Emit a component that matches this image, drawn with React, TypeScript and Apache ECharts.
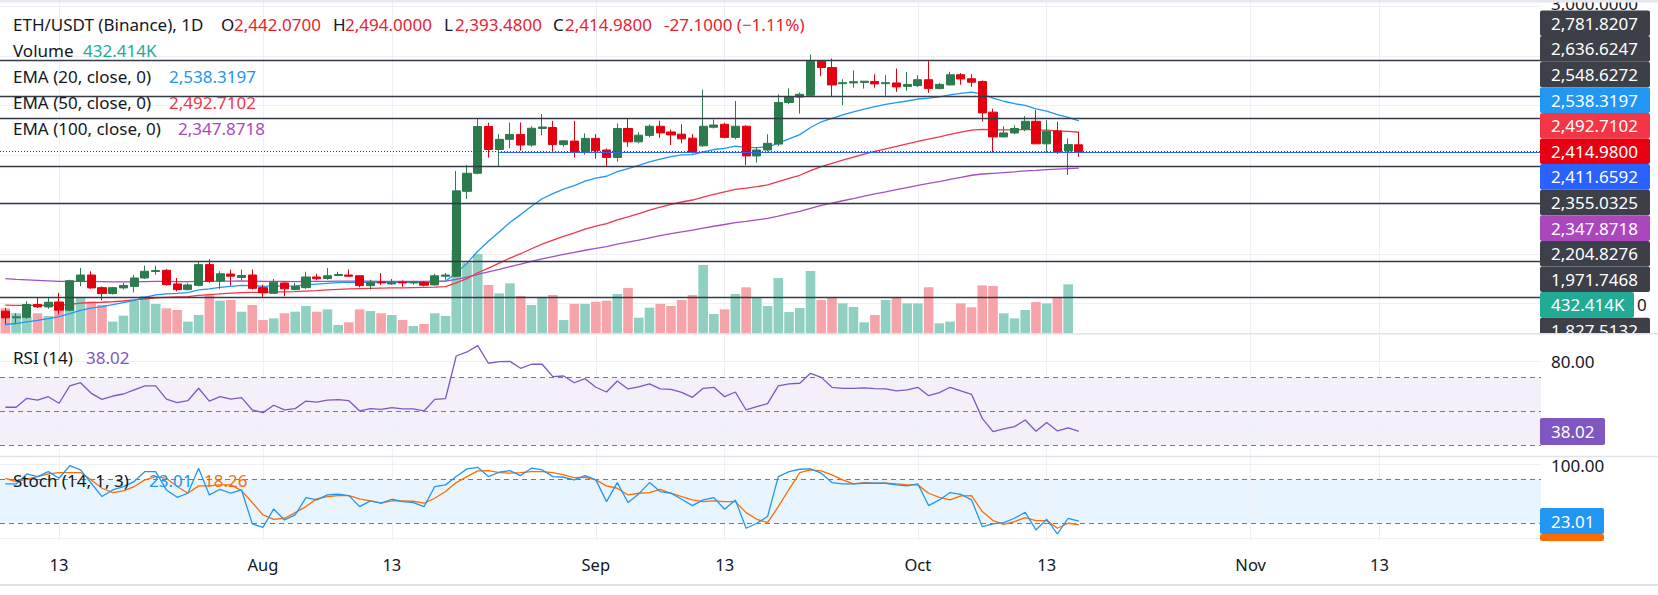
import React, { useEffect, useRef } from "react";
import * as echarts from "echarts";

const FONT = "'Noto Sans', 'DejaVu Sans', sans-serif";
const TEXT = "#131722";
const UP = "#2b7b4f";
const DOWN = "#e4000f";
const VOL_UP = "#8fd0c3";
const VOL_DOWN = "#f6a3a9";
const DARK_TAG = "#3d4049";

const MONTHS = ["Jan", "Feb", "Mar", "Apr", "May", "Jun", "Jul", "Aug", "Sep", "Oct", "Nov", "Dec"];
const START_YEAR = 2024;
const START_MONTH = 6; // July (0-based)
const START_DAY = 8;
const CATEGORY_COUNT = 144;

const TICK_DATES = ["Jul 13", "Aug 1", "Aug 13", "Sep 1", "Sep 13", "Oct 1", "Oct 13", "Nov 1", "Nov 13"];
const TICK_LABELS = ["13", "Aug", "13", "Sep", "13", "Oct", "13", "Nov", "13"];

const OPEN = [
  1770, 1743, 1745, 1797, 1787, 1807, 1774, 1891, 1916, 1865,
  1841, 1864, 1870, 1904, 1930, 1935, 1880, 1857, 1874, 1958,
  1891, 1920, 1906, 1916, 1865, 1842, 1884, 1857, 1865, 1908,
  1902, 1914, 1916, 1913, 1873, 1888, 1880, 1888, 1884, 1886,
  1876, 1911, 1911, 2254, 2327, 2516, 2423, 2464, 2484, 2441,
  2508, 2512, 2443, 2457, 2414, 2468, 2421, 2391, 2508, 2454,
  2480, 2517, 2494, 2485, 2469, 2438, 2513, 2525, 2472, 2517,
  2397, 2421, 2445, 2613, 2635, 2642, 2780, 2754, 2689, 2692,
  2694, 2698, 2689, 2692, 2678, 2681, 2705, 2669, 2684, 2725,
  2709, 2698, 2574, 2474, 2490, 2506, 2537, 2446, 2498, 2417,
  2442.07,
];
const HIGH = [
  1783, 1762, 1810, 1827, 1823, 1844, 1897, 1944, 1931, 1870,
  1868, 1884, 1917, 1954, 1954, 1940, 1904, 1884, 1971, 1980,
  1931, 1938, 1938, 1938, 1877, 1900, 1887, 1884, 1929, 1921,
  1944, 1929, 1938, 1915, 1897, 1924, 1900, 1894, 1892, 1892,
  1921, 1924, 2336, 2360, 2547, 2531, 2485, 2532, 2532, 2517,
  2566, 2539, 2461, 2539, 2488, 2485, 2427, 2528, 2548, 2493,
  2525, 2539, 2504, 2525, 2485, 2665, 2544, 2531, 2619, 2521,
  2432, 2485, 2646, 2670, 2653, 2807, 2782, 2790, 2707, 2743,
  2699, 2727, 2723, 2750, 2736, 2723, 2780, 2692, 2737, 2732,
  2727, 2702, 2588, 2517, 2521, 2558, 2582, 2542, 2535, 2468,
  2494.0,
];
const LOW = [
  1716, 1722, 1739, 1783, 1779, 1756, 1770, 1871, 1860, 1814,
  1837, 1857, 1846, 1900, 1917, 1873, 1850, 1854, 1870, 1884,
  1860, 1873, 1895, 1857, 1827, 1841, 1830, 1854, 1860, 1895,
  1897, 1911, 1908, 1866, 1857, 1876, 1876, 1868, 1877, 1870,
  1873, 1897, 1907, 2223, 2323, 2390, 2356, 2428, 2418, 2434,
  2480, 2414, 2434, 2391, 2402, 2386, 2356, 2374, 2434, 2448,
  2472, 2470, 2441, 2448, 2407, 2434, 2508, 2468, 2464, 2360,
  2370, 2415, 2437, 2606, 2568, 2642, 2719, 2638, 2602, 2673,
  2669, 2673, 2640, 2656, 2660, 2676, 2652, 2666, 2683, 2685,
  2676, 2537, 2410, 2472, 2485, 2497, 2446, 2413, 2405, 2320,
  2393.48,
];
const CLOSE = [
  1743, 1747, 1797, 1787, 1806, 1774, 1893, 1916, 1864, 1841,
  1865, 1874, 1904, 1931, 1934, 1877, 1857, 1876, 1958, 1891,
  1921, 1911, 1914, 1862, 1844, 1887, 1860, 1870, 1908, 1901,
  1913, 1918, 1911, 1873, 1887, 1884, 1887, 1884, 1888, 1875,
  1913, 1916, 2256, 2327, 2516, 2423, 2464, 2484, 2441, 2509,
  2514, 2443, 2458, 2414, 2468, 2418, 2391, 2508, 2454, 2481,
  2517, 2490, 2482, 2466, 2413, 2517, 2522, 2472, 2517, 2397,
  2421, 2448, 2613, 2636, 2646, 2780, 2754, 2684, 2693, 2697,
  2699, 2688, 2693, 2676, 2686, 2705, 2669, 2686, 2725, 2708,
  2695, 2571, 2474, 2490, 2508, 2537, 2446, 2497, 2415, 2443,
  2414.98,
];
const VOLUME_K = [
  219, 175, 145, 175, 151, 204, 278, 317, 278, 249,
  101, 154, 287, 329, 258, 219, 204, 101, 160, 337,
  287, 293, 189, 249, 115, 130, 175, 189, 240, 189,
  210, 71, 95, 210, 195, 175, 160, 115, 62, 80,
  175, 151, 737, 625, 702, 426, 352, 441, 329, 249,
  317, 337, 115, 258, 258, 278, 287, 346, 400, 136,
  225, 258, 240, 293, 337, 604, 169, 210, 346, 406,
  314, 240, 488, 186, 222, 551, 293, 314, 263, 231,
  95, 160, 293, 314, 263, 263, 406, 86, 101, 263,
  228, 423, 417, 175, 130, 204, 275, 263, 317, 432.414,
  null,
];
const EMA20 = [
  1716, 1720, 1727, 1733, 1740, 1748, 1760, 1773, 1782, 1788,
  1796, 1804, 1814, 1826, 1836, 1840, 1842, 1845, 1856, 1860,
  1866, 1870, 1874, 1873, 1870, 1872, 1871, 1872, 1876, 1879,
  1882, 1885, 1887, 1886, 1886, 1886, 1886, 1886, 1886, 1885,
  1888, 1891, 1925, 1963, 2012, 2052, 2090, 2128, 2160, 2194,
  2224, 2245, 2263, 2277, 2295, 2307, 2315, 2334, 2346, 2359,
  2373, 2384, 2394, 2401, 2402, 2413, 2423, 2428, 2437, 2432,
  2431, 2433, 2449, 2466, 2483, 2512, 2535, 2549, 2563, 2575,
  2586, 2596, 2605, 2612, 2619, 2627, 2631, 2636, 2644, 2650,
  2655, 2647, 2631, 2618, 2608, 2601, 2587, 2578, 2564, 2553,
  2538.3197,
];
const EMA50 = [
  1794, 1793, 1793, 1793, 1794, 1793, 1797, 1802, 1805, 1806,
  1808, 1811, 1815, 1820, 1824, 1826, 1828, 1829, 1834, 1837,
  1840, 1843, 1845, 1846, 1846, 1848, 1848, 1849, 1851, 1853,
  1856, 1858, 1860, 1861, 1862, 1863, 1864, 1864, 1865, 1866,
  1867, 1869, 1884, 1901, 1925, 1944, 1964, 1984, 2002, 2022,
  2041, 2057, 2072, 2086, 2101, 2113, 2124, 2139, 2151, 2164,
  2178, 2190, 2201, 2211, 2219, 2231, 2242, 2252, 2262, 2267,
  2273, 2280, 2293, 2306, 2319, 2338, 2354, 2367, 2380, 2392,
  2404, 2415, 2426, 2436, 2446, 2456, 2465, 2474, 2484, 2493,
  2501, 2504, 2503, 2502, 2502, 2504, 2502, 2501, 2498, 2496,
  2492.7102,
];
const EMA100 = [
  1901, 1898, 1896, 1894, 1892, 1890, 1890, 1890, 1890, 1889,
  1888, 1888, 1888, 1889, 1890, 1890, 1889, 1889, 1890, 1890,
  1891, 1891, 1892, 1891, 1890, 1890, 1890, 1889, 1890, 1890,
  1890, 1891, 1891, 1891, 1891, 1890, 1890, 1890, 1890, 1890,
  1891, 1891, 1898, 1907, 1919, 1929, 1939, 1950, 1960, 1971,
  1981, 1990, 1999, 2007, 2016, 2024, 2031, 2041, 2049, 2057,
  2066, 2075, 2083, 2090, 2097, 2105, 2113, 2120, 2128, 2133,
  2139, 2145, 2154, 2164, 2173, 2185, 2197, 2206, 2216, 2225,
  2235, 2244, 2252, 2261, 2269, 2278, 2286, 2293, 2302, 2310,
  2319, 2324, 2327, 2330, 2333, 2337, 2339, 2342, 2344, 2346,
  2347.8718,
];
const RSI14 = [
  52.4, 52.4, 57.7, 56.7, 58.7, 54.8, 65.1, 67.0, 60.7, 57.1,
  59.1, 60.3, 62.7, 65.1, 65.1, 57.3, 55.1, 56.3, 63.7, 56.1,
  58.7, 57.3, 58.1, 50.8, 49.2, 53.6, 50.8, 51.6, 56.1, 55.5,
  56.7, 56.9, 56.3, 50.2, 51.6, 51.2, 52.2, 51.4, 51.4, 50.2,
  57.1, 57.5, 82.9, 85.3, 89.1, 78.6, 79.6, 79.7, 75.6, 78.0,
  78.0, 70.6, 71.0, 67.0, 69.4, 64.3, 61.5, 68.0, 63.3, 64.5,
  66.3, 63.3, 63.1, 61.3, 58.3, 63.7, 64.3, 58.7, 61.5, 50.8,
  52.8, 54.6, 65.1, 66.3, 66.7, 72.6, 70.2, 64.3, 63.7, 63.7,
  63.9, 63.5, 63.3, 62.1, 62.7, 64.3, 59.3, 61.1, 64.3, 62.1,
  60.1, 45.8, 37.9, 39.5, 40.9, 44.8, 38.1, 43.4, 38.3, 40.1,
  38.02,
];
const STOCH_K = [
  73.7, 73.7, 87.3, 83.7, 90.5, 81.4, 98.7, 92.8, 74.6, 56.5,
  65.5, 70.1, 76.9, 90.5, 90.5, 65.5, 55.5, 61.0, 95.1, 58.7,
  66.4, 61.0, 65.5, 19.2, 14.6, 39.6, 24.6, 31.4, 55.1, 51.9,
  58.7, 59.6, 57.8, 42.8, 50.5, 47.4, 52.8, 49.6, 48.3, 42.8,
  70.1, 72.4, 83.7, 94.2, 96.4, 83.7, 89.6, 91.9, 85.1, 95.1,
  92.8, 83.7, 82.8, 79.2, 85.1, 79.2, 49.6, 75.5, 48.3, 60.1,
  75.5, 63.3, 61.0, 52.8, 44.2, 51.9, 55.1, 39.2, 51.9, 13.3,
  20.1, 29.2, 83.7, 90.5, 93.7, 94.2, 88.3, 75.5, 73.7, 73.7,
  74.6, 74.6, 74.6, 72.4, 71.0, 73.7, 44.2, 51.9, 61.9, 59.6,
  51.9, 15.5, 19.2, 21.0, 26.9, 35.1, 11.0, 25.5, 5.5, 26.9,
  23.01,
];
const STOCH_D = [
  81.4, 76.9, 80.1, 83.7, 87.3, 89.2, 89.2, 89.2, 79.2, 67.8,
  61.9, 64.2, 70.1, 79.2, 83.7, 81.4, 70.1, 61.0, 71.0, 71.0,
  72.4, 72.4, 64.6, 48.3, 31.4, 25.5, 26.9, 34.6, 42.8, 53.3,
  56.4, 57.8, 57.8, 53.3, 50.5, 47.4, 50.5, 50.5, 50.1, 47.4,
  54.2, 63.3, 75.5, 83.7, 91.4, 91.9, 89.2, 88.3, 89.2, 90.5,
  90.5, 89.2, 86.0, 82.4, 82.8, 79.2, 71.0, 67.8, 58.7, 61.0,
  61.9, 66.4, 61.0, 56.4, 51.9, 49.6, 50.5, 49.6, 49.6, 34.6,
  25.5, 21.0, 42.8, 66.4, 89.2, 92.8, 91.4, 86.0, 79.2, 73.7,
  75.5, 74.6, 74.6, 73.7, 72.4, 72.4, 61.0, 55.5, 51.9, 57.4,
  57.8, 36.0, 23.7, 18.7, 22.4, 27.8, 23.7, 23.7, 13.3, 20.1,
  18.26,
];

const LEVELS = [2781.8207, 2636.6247, 2548.6272, 2355.0325, 2204.8276, 1971.7468, 1827.5132];
const RAY_LEVEL = 2411.6592;
const RAY_START = 46;
const PRICE_GRID = [1800, 2000, 2200, 2400, 2600, 2800, 3000];
const CHANGE_TEXT = "-27.1000 (\u22121.11%)";

const fmt4 = (v: number) => v.toLocaleString("en-US", { minimumFractionDigits: 4, maximumFractionDigits: 4 });
const fmt2 = (v: number) => v.toFixed(2);

function buildDates(): string[] {
  const out: string[] = [];
  const d = new Date(Date.UTC(START_YEAR, START_MONTH, START_DAY));
  for (let i = 0; i < CATEGORY_COUNT; i++) {
    out.push(`${MONTHS[d.getUTCMonth()]} ${d.getUTCDate()}`);
    d.setUTCDate(d.getUTCDate() + 1);
  }
  return out;
}

function txt(text: string, x: number, y: number, fill: string, size = 17, align = "left", z = 60) {
  return {
    type: "text",
    x,
    y,
    z,
    silent: true,
    style: {
      text,
      fill,
      font: `${size}px ${FONT}`,
      align,
      verticalAlign: "middle",
      textAlign: align,
      textVerticalAlign: "middle",
    },
  };
}
function rect(x: number, y: number, w: number, h: number, fill: string, z = 55, r = 0) {
  return { type: "rect", z, silent: true, shape: { x, y, width: w, height: h, r }, style: { fill } };
}

export default function App() {
  const ref = useRef<HTMLDivElement>(null);

  useEffect(() => {
    if (!ref.current) return;
    const chart = echarts.init(ref.current, undefined, { renderer: "svg" });
    const dates = buildDates();
    const n = dates.length;
    const GL = -2.125;
    const GW = 1548;
    const last = CLOSE.length - 1;

    const grids = [
      { left: GL, width: GW, top: 0, height: 333 },
      { left: GL, width: GW, top: 233, height: 100 },
      { left: GL, width: GW, top: 334, height: 121 },
      { left: GL, width: GW, top: 457, height: 84 },
    ];
    const xAxes = grids.map((_, gi) => ({
      type: "category",
      gridIndex: gi,
      data: dates,
      boundaryGap: true,
      axisLine: { show: false },
      axisTick: { show: false },
      splitLine: { show: false },
      axisLabel:
        gi === 3
          ? {
              show: true,
              interval: (_idx: number, val: string) => TICK_DATES.includes(val),
              formatter: (val: string) => {
                const k = TICK_DATES.indexOf(val);
                return k >= 0 ? TICK_LABELS[k] : "";
              },
              color: TEXT,
              fontSize: 16.5,
              fontFamily: FONT,
              margin: 15,
            }
          : { show: false },
    }));
    const yAxes = [
      { min: 1681.7, max: 3027.05 },
      { min: 0, max: 888 },
      { min: 24, max: 96 },
      { min: -4.1, max: 110.4 },
    ].map((r, gi) => ({
      type: "value",
      gridIndex: gi,
      min: r.min,
      max: r.max,
      show: false,
      splitLine: { show: false },
    }));

    const nulls = dates.map(() => null);
    const faint = (gi: number, yVals: number[]) => ({
      type: "line",
      xAxisIndex: gi,
      yAxisIndex: gi,
      data: nulls,
      silent: true,
      z: 0,
      symbol: "none",
      markLine: {
        silent: true,
        z: 0,
        symbol: ["none", "none"],
        label: { show: false },
        lineStyle: { color: "#eef0f5", width: 1, type: "solid" },
        data: [...yVals.map((v) => ({ yAxis: v })), ...TICK_DATES.map((d) => ({ xAxis: d }))],
      },
    });
    const lineSeries = (gi: number, data: number[], color: string, width = 1.3, z = 3) => ({
      type: "line",
      xAxisIndex: gi,
      yAxisIndex: gi,
      data,
      symbol: "none",
      silent: true,
      z,
      lineStyle: { color, width },
    });
    const dashed = { color: "#787b86", width: 1, type: [5, 4] };

    const series: any[] = [
      faint(0, PRICE_GRID),
      faint(2, [80, 40]),
      faint(3, [100, 0]),
      {
        type: "bar",
        xAxisIndex: 1,
        yAxisIndex: 1,
        barWidth: 9.6,
        silent: true,
        z: 1,
        data: VOLUME_K.map((v, i) =>
          v == null ? null : { value: v, itemStyle: { color: CLOSE[i] >= OPEN[i] ? VOL_UP : VOL_DOWN } }
        ),
      },
      lineSeries(0, EMA100, "#a04fc6"),
      lineSeries(0, EMA50, "#f23645"),
      lineSeries(0, EMA20, "#2196f3"),
      {
        type: "candlestick",
        xAxisIndex: 0,
        yAxisIndex: 0,
        barWidth: 8.6,
        silent: true,
        z: 4,
        data: OPEN.map((o, i) => [o, CLOSE[i], LOW[i], HIGH[i]]),
        itemStyle: {
          color: UP,
          color0: DOWN,
          borderColor: UP,
          borderColor0: DOWN,
          borderColorDoji: UP,
          borderWidth: 1,
        },
        markLine: {
          silent: true,
          symbol: ["none", "none"],
          label: { show: false },
          data: [
            ...LEVELS.map((v) => ({ yAxis: v, lineStyle: { color: "#363a45", width: 1.3, type: "solid" } })),
            { yAxis: CLOSE[last], lineStyle: { color: "#e4000f", width: 1, type: [1, 2] } },
            [
              { coord: [dates[RAY_START], RAY_LEVEL], lineStyle: { color: "#2962ff", width: 1, type: "solid" } },
              { coord: [dates[n - 1], RAY_LEVEL] },
            ],
          ],
        },
      },
      {
        type: "line",
        xAxisIndex: 2,
        yAxisIndex: 2,
        data: nulls,
        silent: true,
        z: 1,
        symbol: "none",
        markArea: {
          silent: true,
          z: 0,
          itemStyle: { color: "rgba(126,87,194,0.09)" },
          data: [[{ yAxis: 30 }, { yAxis: 70 }]],
        },
        markLine: {
          silent: true,
          z: 1,
          symbol: ["none", "none"],
          label: { show: false },
          lineStyle: dashed,
          data: [{ yAxis: 70 }, { yAxis: 50 }, { yAxis: 30 }],
        },
      },
      lineSeries(2, RSI14, "#7e57c2"),
      {
        type: "line",
        xAxisIndex: 3,
        yAxisIndex: 3,
        data: nulls,
        silent: true,
        z: 1,
        symbol: "none",
        markArea: {
          silent: true,
          z: 0,
          itemStyle: { color: "rgba(33,150,243,0.1)" },
          data: [[{ yAxis: 20 }, { yAxis: 80 }]],
        },
        markLine: {
          silent: true,
          z: 1,
          symbol: ["none", "none"],
          label: { show: false },
          lineStyle: dashed,
          data: [{ yAxis: 80 }, { yAxis: 20 }],
        },
      },
      lineSeries(3, STOCH_D, "#ff6d00"),
      lineSeries(3, STOCH_K, "#2196f3"),
    ];

    // right price-axis tags (stacked)
    const volText = `${(VOLUME_K[last - 1] as number).toFixed(3)}K`;
    const tags = [
      { text: fmt4(LEVELS[0]), color: DARK_TAG },
      { text: fmt4(LEVELS[1]), color: DARK_TAG },
      { text: fmt4(LEVELS[2]), color: DARK_TAG },
      { text: fmt4(EMA20[last]), color: "#2196f3" },
      { text: fmt4(EMA50[last]), color: "#f23645" },
      { text: fmt4(CLOSE[last]), color: "#e60012" },
      { text: fmt4(RAY_LEVEL), color: "#2962ff" },
      { text: fmt4(LEVELS[3]), color: DARK_TAG },
      { text: fmt4(EMA100[last]), color: "#ab47bc" },
      { text: fmt4(LEVELS[4]), color: DARK_TAG },
      { text: fmt4(LEVELS[5]), color: DARK_TAG },
      { text: volText, color: "#22ab94", w: 94 },
      { text: fmt4(LEVELS[6]), color: DARK_TAG },
    ];
    const graphics: any[] = [
      rect(1541, 0, 117, 595, "#ffffff", 50),
      rect(0, 0, 1658, 2.5, "#e6e8ee", 70),
      txt("3,000.0000", 1551, 3, TEXT, 17, "left", 51),
      txt("0", 1637, 304, TEXT, 17, "left", 51),
      txt("80.00", 1551, 361, TEXT, 17, "left", 51),
      txt("100.00", 1551, 465, TEXT, 17, "left", 51),
    ];
    tags.forEach((t, k) => {
      const top = 10.5 + k * 25.6;
      graphics.push(rect(1540, top, (t as any).w || 110, 25.6, t.color, 52, 2));
      graphics.push(txt(t.text, 1551, top + 12.8, "#ffffff", 17, "left", 53));
    });
    graphics.push(rect(1536, 333, 122, 12, "#ffffff", 54));
    // RSI / Stoch tags
    graphics.push(rect(1540, 418, 65, 27, "#7e57c2", 52, 2));
    graphics.push(txt(fmt2(RSI14[last]), 1551, 431.5, "#ffffff", 17, "left", 53));
    graphics.push(rect(1540, 534, 64, 7, "#ff6d00", 52, 2));
    graphics.push(rect(1540, 508, 64, 26, "#2196f3", 52, 2));
    graphics.push(txt(fmt2(STOCH_K[last]), 1551, 521, "#ffffff", 17, "left", 53));
    // separators
    graphics.push(rect(0, 333, 1658, 1.5, "#e0e3eb", 70));
    graphics.push(rect(0, 455.8, 1658, 1.5, "#e0e3eb", 70));
    graphics.push(rect(0, 584, 1658, 2, "#e0e3eb", 70));

    // legends
    const RED = "#e8232f";
    graphics.push(txt("ETH/USDT (Binance), 1D", 13, 24, TEXT));
    graphics.push(txt("O", 221, 24, TEXT));
    graphics.push(txt(fmt4(OPEN[last]), 234, 24, RED));
    graphics.push(txt("H", 333, 24, TEXT));
    graphics.push(txt(fmt4(HIGH[last]), 345, 24, RED));
    graphics.push(txt("L", 444, 24, TEXT));
    graphics.push(txt(fmt4(LOW[last]), 455, 24, RED));
    graphics.push(txt("C", 553, 24, TEXT));
    graphics.push(txt(fmt4(CLOSE[last]), 565, 24, RED));
    graphics.push(txt(CHANGE_TEXT, 664, 24, RED));
    graphics.push(txt("Volume", 13, 50, TEXT));
    graphics.push(txt(volText, 83, 50, "#22ab94"));
    graphics.push(txt("EMA (20, close, 0)", 13, 76, TEXT));
    graphics.push(txt(fmt4(EMA20[last]), 169, 76, "#2196f3"));
    graphics.push(txt("EMA (50, close, 0)", 13, 102, TEXT));
    graphics.push(txt(fmt4(EMA50[last]), 169, 102, "#f23645"));
    graphics.push(txt("EMA (100, close, 0)", 13, 128, TEXT));
    graphics.push(txt(fmt4(EMA100[last]), 178, 128, "#ab47bc"));
    graphics.push(txt("RSI (14)", 13, 357, TEXT));
    graphics.push(txt(fmt2(RSI14[last]), 86, 357, "#7e57c2"));
    graphics.push(txt("Stoch (14, 1, 3)", 13, 480, TEXT));
    graphics.push(txt(fmt2(STOCH_K[last]), 149, 480, "#2196f3"));
    graphics.push(txt(fmt2(STOCH_D[last]), 204, 480, "#ff6d00"));

    chart.setOption({
      animation: false,
      backgroundColor: "#ffffff",
      textStyle: { fontFamily: FONT },
      grid: grids,
      xAxis: xAxes,
      yAxis: yAxes,
      series,
      graphic: { elements: graphics },
    });
    return () => chart.dispose();
  }, []);

  return (
    <div
      ref={ref}
      style={{ position: "absolute", left: 0, top: 0, width: 1658, height: 595, background: "#fff" }}
    />
  );
}
